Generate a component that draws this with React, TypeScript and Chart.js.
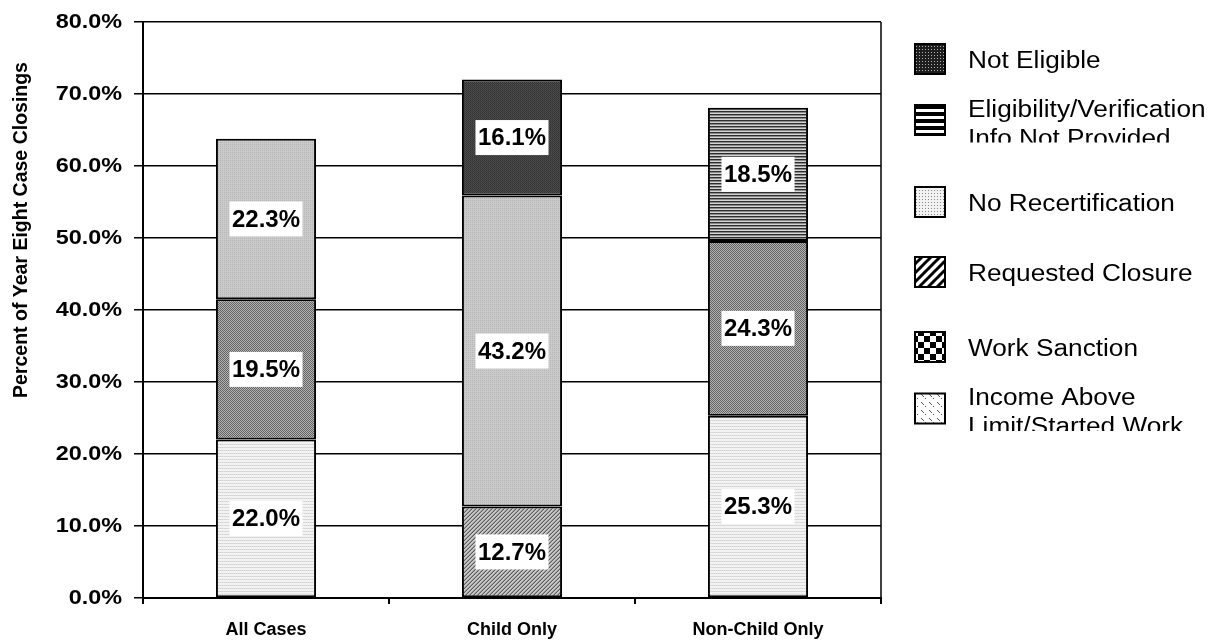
import React, { useEffect, useRef } from "react";
import { Chart, registerables } from "chart.js";

Chart.register(...registerables);

// Categories and stacked series (percent of year eight case closings)
const categories = ["All Cases", "Child Only", "Non-Child Only"];
const incomeAboveLimit = [22.0, null, 25.3];
const workSanction = [19.5, null, 24.3];
const requestedClosure = [null, 12.7, null];
const noRecertification = [22.3, 43.2, null];
const eligibilityInfo = [null, null, 18.5];
const notEligible = [null, 16.1, null];

const seriesLabels = [
  ["Income Above", "Limit/Started Work"],
  ["Work Sanction"],
  ["Requested Closure"],
  ["No Recertification"],
  ["Eligibility/Verification", "Info Not Provided"],
  ["Not Eligible"],
];

const yMin = 0;
const yMax = 80;
const yStep = 10;
const yTitle = "Percent of Year Eight Case Closings";

const formatPct = (v: number) => `${Number(v).toFixed(1)}%`;

type Px = string[][];

function pixelPattern(rows: Px): CanvasPattern {
  const h = rows.length;
  const w = rows[0].length;
  const c = document.createElement("canvas");
  c.width = w;
  c.height = h;
  const ctx = c.getContext("2d")!;
  for (let y = 0; y < h; y++) {
    for (let x = 0; x < w; x++) {
      ctx.fillStyle = rows[y][x];
      ctx.fillRect(x, y, 1, 1);
    }
  }
  return ctx.createPattern(c, "repeat")!;
}

function drawnPattern(w: number, h: number, draw: (ctx: CanvasRenderingContext2D) => void): CanvasPattern {
  const c = document.createElement("canvas");
  c.width = w;
  c.height = h;
  const ctx = c.getContext("2d")!;
  draw(ctx);
  return ctx.createPattern(c, "repeat")!;
}

function buildPatterns() {
  // fine fills used inside the bars
  const bar = {
    income: pixelPattern([
      ["#d2d2d2", "#dedede"],
      ["#f3f3f3", "#f3f3f3"],
      ["#f6f6f6", "#eeeeee"],
    ]),
    work: pixelPattern([
      ["#626262", "#b4b4b4"],
      ["#b4b4b4", "#626262"],
    ]),
    requested: pixelPattern([
      ["#5a5a5a", "#c8c8c8", "#c8c8c8", "#9a9a9a"],
      ["#c8c8c8", "#c8c8c8", "#9a9a9a", "#5a5a5a"],
      ["#c8c8c8", "#9a9a9a", "#5a5a5a", "#c8c8c8"],
      ["#9a9a9a", "#5a5a5a", "#c8c8c8", "#c8c8c8"],
    ]),
    norecert: pixelPattern([
      ["#b8b8b8", "#c8c8c8"],
      ["#c8c8c8", "#cccccc"],
    ]),
    elig: pixelPattern([
      ["#2e2e2e"],
      ["#8a8a8a"],
      ["#d4d4d4"],
    ]),
    noteligible: pixelPattern([
      ["#343434", "#4e4e4e"],
      ["#454545", "#3a3a3a"],
    ]),
  };

  // coarser swatches for the legend
  const legend = {
    income: drawnPattern(8, 8, (ctx) => {
      ctx.fillStyle = "#ffffff";
      ctx.fillRect(0, 0, 8, 8);
      ctx.fillStyle = "#555555";
      ctx.fillRect(1, 2, 1, 1);
      ctx.fillRect(2, 3, 1, 1);
      ctx.fillRect(3, 4, 1, 1);
      ctx.fillRect(5, 6, 1, 1);
    }),
    work: drawnPattern(12, 12, (ctx) => {
      ctx.fillStyle = "#ffffff";
      ctx.fillRect(0, 0, 12, 12);
      ctx.fillStyle = "#000000";
      ctx.fillRect(0, 0, 6, 6);
      ctx.fillRect(6, 6, 6, 6);
    }),
    requested: drawnPattern(9, 9, (ctx) => {
      ctx.fillStyle = "#ffffff";
      ctx.fillRect(0, 0, 9, 9);
      ctx.strokeStyle = "#000000";
      ctx.lineWidth = 3;
      for (let k = -9; k <= 18; k += 9) {
        ctx.beginPath();
        ctx.moveTo(k - 1, 10);
        ctx.lineTo(k + 10, -1);
        ctx.stroke();
      }
    }),
    norecert: drawnPattern(3, 3, (ctx) => {
      ctx.fillStyle = "#f2f2f2";
      ctx.fillRect(0, 0, 3, 3);
      ctx.fillStyle = "#8a8a8a";
      ctx.fillRect(1, 1, 1, 1);
    }),
    elig: drawnPattern(1, 7, (ctx) => {
      ctx.fillStyle = "#000000";
      ctx.fillRect(0, 0, 1, 4);
      ctx.fillStyle = "#ffffff";
      ctx.fillRect(0, 4, 1, 3);
    }),
    noteligible: drawnPattern(3, 3, (ctx) => {
      ctx.fillStyle = "#1e1e1e";
      ctx.fillRect(0, 0, 3, 3);
      ctx.fillStyle = "#b0b0b0";
      ctx.fillRect(1, 1, 1, 1);
    }),
  };
  return { bar, legend };
}

const FONT = "'Liberation Sans', Arial, sans-serif";

export default function App() {
  const canvasRef = useRef<HTMLCanvasElement | null>(null);

  useEffect(() => {
    const canvas = canvasRef.current;
    if (!canvas) return;
    const { bar, legend } = buildPatterns();

    const seriesData = [
      incomeAboveLimit,
      workSanction,
      requestedClosure,
      noRecertification,
      eligibilityInfo,
      notEligible,
    ];
    const barFills = [bar.income, bar.work, bar.requested, bar.norecert, bar.elig, bar.noteligible];
    const legendFills = [
      legend.income,
      legend.work,
      legend.requested,
      legend.norecert,
      legend.elig,
      legend.noteligible,
    ];

    const datasets = seriesData.map((d, i) => ({
      label: seriesLabels[i].join(" "),
      data: d,
      backgroundColor: barFills[i],
      borderColor: "#000000",
      borderWidth: 2,
      borderSkipped: false as const,
      stack: "closings",
      categoryPercentage: 0.407,
      barPercentage: 1,
    }));

    // value boxes centred in each stacked segment
    const valueLabels = {
      id: "valueLabels",
      afterDatasetsDraw(chart: any) {
        const ctx = chart.ctx;
        ctx.save();
        ctx.font = `bold 24px ${FONT}`;
        ctx.textAlign = "center";
        ctx.textBaseline = "middle";
        chart.data.datasets.forEach((ds: any, i: number) => {
          const meta = chart.getDatasetMeta(i);
          meta.data.forEach((el: any, j: number) => {
            const v = ds.data[j];
            if (v == null) return;
            const { x, y, base } = el.getProps(["x", "y", "base"], true);
            const cy = (y + base) / 2;
            const text = formatPct(v);
            const w = ctx.measureText(text).width + 5;
            const h = 35;
            ctx.fillStyle = "#ffffff";
            ctx.fillRect(x - w / 2, cy - h / 2, w, h);
            ctx.fillStyle = "#000000";
            ctx.fillText(text, x, cy + 1);
          });
        });
        ctx.restore();
      },
    };

    // frame, wide y tick labels, rotated axis title and the side legend
    const decorations = {
      id: "decorations",
      afterDraw(chart: any) {
        const ctx = chart.ctx;
        const area = chart.chartArea;
        ctx.save();
        ctx.strokeStyle = "#000000";
        ctx.lineWidth = 1.5;
        ctx.beginPath();
        ctx.moveTo(area.right, area.top);
        ctx.lineTo(area.right, area.bottom);
        ctx.stroke();
        ctx.restore();

        // y tick labels, drawn at the scale's own tick positions
        const ys = chart.scales.y;
        ctx.save();
        ctx.font = `bold 19.5px ${FONT}`;
        ctx.fillStyle = "#000000";
        ctx.textAlign = "right";
        ctx.textBaseline = "middle";
        ys.ticks.forEach((t: any) => {
          const py = ys.getPixelForValue(t.value);
          ctx.save();
          ctx.translate(area.left - 21, py + 1);
          ctx.scale(1.2, 1);
          ctx.fillText(formatPct(t.value), 0, 0);
          ctx.restore();
        });
        ctx.restore();

        // rotated axis title
        ctx.save();
        ctx.translate(22, 230);
        ctx.rotate(-Math.PI / 2);
        ctx.font = `bold 19.5px ${FONT}`;
        ctx.fillStyle = "#000000";
        ctx.textAlign = "center";
        ctx.textBaseline = "middle";
        ctx.fillText(yTitle, 0, 0);
        ctx.restore();

        // legend, top entry = top of stack
        const centers = [60, 123, 203, 273, 348, 411.5];
        const boxX = 915;
        const textX = 968;
        const n = chart.data.datasets.length;
        const drawText = (s: string, x: number, baseline: number) => {
          ctx.save();
          ctx.translate(x, baseline);
          ctx.scale(1.14, 1);
          ctx.fillText(s, 0, 0);
          ctx.restore();
        };
        ctx.save();
        ctx.font = `23px ${FONT}`;
        ctx.textAlign = "left";
        ctx.textBaseline = "alphabetic";
        for (let k = 0; k < n; k++) {
          const idx = n - 1 - k;
          const cy = centers[k];
          const lines = seriesLabels[idx];
          const boxCy = lines.length === 1 ? cy - 1 : cy - 3;
          ctx.fillStyle = legendFills[idx];
          ctx.fillRect(boxX, boxCy - 15, 30, 30);
          ctx.strokeStyle = "#000000";
          ctx.lineWidth = 2;
          ctx.strokeRect(boxX, boxCy - 15, 30, 30);
          ctx.fillStyle = "#000000";
          if (lines.length === 1) {
            drawText(lines[0], textX, cy + 8);
          } else {
            const c1 = cy - 14.5;
            const c2 = cy + 14.5;
            drawText(lines[0], textX, c1 + 8);
            ctx.save();
            ctx.beginPath();
            ctx.rect(textX - 2, c2 - 22, 320, 22 + 5);
            ctx.clip();
            drawText(lines[1], textX, c2 + 8);
            ctx.restore();
          }
        }
        ctx.restore();
      },
    };

    const chart = new Chart(canvas, {
      type: "bar",
      data: { labels: categories, datasets },
      options: {
        responsive: false,
        animation: false,
        events: [],
        layout: { padding: { left: 8, right: 332, top: 22, bottom: 0 } },
        plugins: {
          legend: { display: false },
          tooltip: { enabled: false },
          title: { display: false },
        },
        scales: {
          x: {
            stacked: true,
            afterFit: (s: any) => {
              s.height = 44;
            },
            grid: {
              display: true,
              drawOnChartArea: false,
              drawTicks: true,
              tickLength: 6,
              color: "#000000",
              lineWidth: 2,
              offset: true,
            },
            border: { display: true, color: "#000000", width: 2 },
            ticks: {
              color: "#000000",
              padding: 15,
              font: { family: FONT, size: 18, weight: "bold" },
              maxRotation: 0,
            },
          },
          y: {
            stacked: true,
            min: yMin,
            max: yMax,
            afterFit: (s: any) => {
              s.width = 135;
            },
            grid: {
              color: "#000000",
              lineWidth: 1.5,
              drawTicks: true,
              tickLength: 9,
            },
            border: { display: true, color: "#000000", width: 2 },
            ticks: {
              stepSize: yStep,
              color: "rgba(0,0,0,0)",
              padding: 10,
              font: { family: FONT, size: 19, weight: "bold" },
              callback: (v: any) => formatPct(v),
            },
          },
        },
      },
      plugins: [valueLabels, decorations],
    });

    return () => chart.destroy();
  }, []);

  return (
    <div style={{ position: "fixed", left: 0, top: 0, width: 1213, height: 642, background: "#ffffff" }}>
      <canvas ref={canvasRef} width={1213} height={642} style={{ display: "block" }} />
    </div>
  );
}
